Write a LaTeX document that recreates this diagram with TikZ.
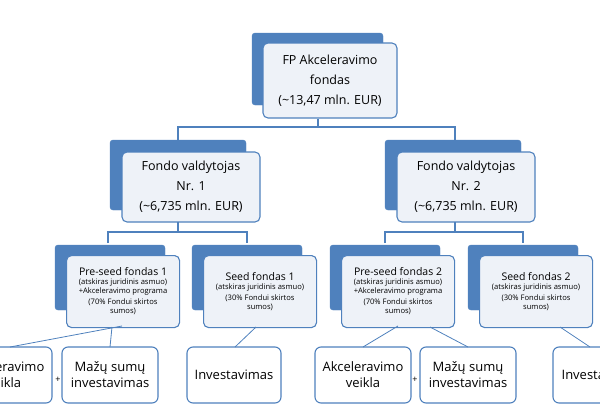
\documentclass[tikz,border=0pt]{standalone}
\usepackage{fontspec}
\setmainfont{Open Sans}
\definecolor{dk}{HTML}{4F81BD}
\definecolor{lt}{HTML}{EEF2F8}
\begin{document}
\begin{tikzpicture}[x=1pt,y=-1pt,
  back/.style={fill=dk,draw=dk,rounded corners=3pt},
  front/.style={draw=dk,line width=1.1pt,fill=lt,rounded corners=5pt,align=center,inner sep=1pt},
  leaf/.style={draw=dk,line width=1.1pt,fill=white,rounded corners=6pt,align=center,font=\fontsize{13}{16}\selectfont},
  con/.style={draw=dk,line width=1.2pt}]
\useasboundingbox (0,0) rectangle (600,405);
\clip (0,0) rectangle (600,405);
% top
\fill[back] (252,33) rectangle (383,105);
\node[front,minimum width=134pt,minimum height=75pt,font=\fontsize{12.5}{20}\selectfont] (top) at (330,80.5) {FP Akceleravimo\\fondas\\(\textasciitilde13,47 mln. EUR)};
% level 2
\fill[back] (110,140) rectangle (246,210);
\node[front,minimum width=138pt,minimum height=70pt,font=\fontsize{12.5}{20}\selectfont] (m1) at (191,187) {Fondo valdytojas\\Nr. 1\\(\textasciitilde6,735 mln. EUR)};
\fill[back] (385,140) rectangle (521,210);
\node[front,minimum width=138pt,minimum height=70pt,font=\fontsize{12.5}{20}\selectfont] (m2) at (466,187) {Fondo valdytojas\\Nr. 2\\(\textasciitilde6,735 mln. EUR)};
\coordinate (j0) at (318,127);
\draw[con] (top.south -| j0) -- (j0) -- (178,127) -- (178,140);
\draw[con] (j0) -- (455,127) -- (455,140);
% level 3
\foreach \n/\x/\t/\s in {p1/55/Pre-seed fondas 1/{(atskiras juridinis asmuo)\\+Akceleravimo programa\\[2pt](70\% Fondui skirtos\\sumos)},
  s1/192/Seed fondas 1/{(atskiras juridinis asmuo)\\[2pt](30\% Fondui skirtos\\sumos)},
  p2/330/Pre-seed fondas 2/{(atskiras juridinis asmuo)\\+Akceleravimo programa\\[2pt](70\% Fondui skirtos\\sumos)},
  s2/468/Seed fondas 2/{(atskiras juridinis asmuo)\\[2pt](30\% Fondui skirtos\\sumos)}}{
  \fill[back] (\x,245) rectangle (\x+110,310);
  \node[front,minimum width=113pt,minimum height=72pt,anchor=north west,font=\fontsize{7.6}{9}\selectfont] (\n) at (\x+11,255)
    {{\fontsize{10.5}{14}\selectfont \t}\\ \s};
}
\draw[con] (178,222) -- (178,232);
\draw[con] (108,243) -- (108,232) -- (247,232) -- (247,243);
\draw[con] (455,222) -- (455,232);
\draw[con] (385,243) -- (385,232) -- (523,232) -- (523,243);
% leaves
\node[leaf,minimum width=96pt,minimum height=56pt] (a1) at (4,375) {Akceleravimo\\veikla};
\node[leaf,minimum width=96pt,minimum height=56pt] (b1) at (110,375) {Mažų sumų\\investavimas};
\node[leaf,minimum width=94pt,minimum height=56pt] (c1) at (234,375) {Investavimas};
\node[leaf,minimum width=96pt,minimum height=56pt] (a2) at (363,375) {Akceleravimo\\veikla};
\node[leaf,minimum width=96pt,minimum height=56pt] (b2) at (468,375) {Mažų sumų\\investavimas};
\node[leaf,minimum width=96pt,minimum height=56pt] (c2) at (601,375) {Investavimas};
\node (pl1) at (58,380) {\small +};
\node (pl2) at (415,380) {\small +};
\draw[dk,line width=0.8pt] (122,326) -- (10,347);
\draw[dk,line width=0.8pt] (112,327) -- (110,347);
\draw[dk,line width=0.8pt] (256,327) -- (235,347);
\draw[dk,line width=0.8pt] (398,326) -- (363,347);
\draw[dk,line width=0.8pt] (430,327) -- (468,347);
\draw[dk,line width=0.8pt] (560,327) -- (590,347);
\end{tikzpicture}
\end{document}
